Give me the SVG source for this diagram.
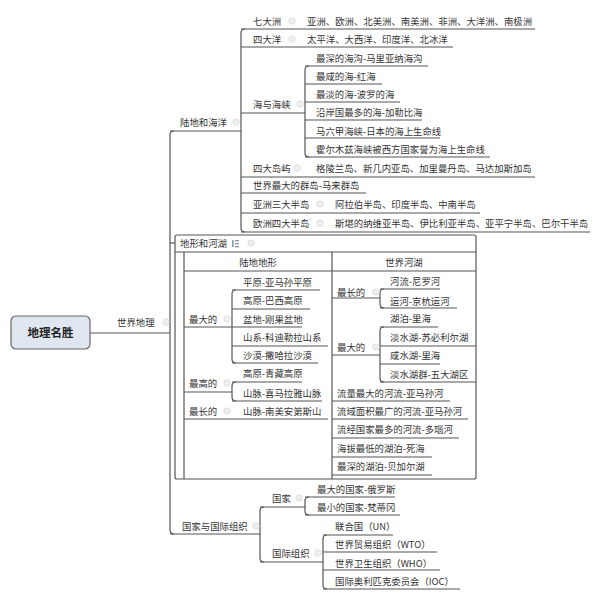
<svg xmlns="http://www.w3.org/2000/svg" width="600" height="610" viewBox="0 0 600 610">
<style>
text{font-family:"Noto Sans CJK SC","Liberation Sans",sans-serif;font-size:9.4px;fill:#333}
.c{text-anchor:middle}
.ln{fill:none;stroke:#555;stroke-width:1.2}
.ic{fill:#efefef;stroke:#dcdcdc;stroke-width:0.8}
.root{fill:#dfe6ef;stroke:#666;stroke-width:1.2}
.rt{font-size:11.5px;font-weight:bold;fill:#222}
.tb{fill:none;stroke:#555;stroke-width:1.2}
</style>
<rect width="600" height="610" fill="#fff"/>
<g id="n-table">
<rect class="tb" x="175" y="235" width="301" height="244" rx="2"/>
<path class="ln" d="M175 252 H476 M184 252 V479 M184 271 H476 M332 252 V479"/>
<text x="180" y="246.5">地形和河湖</text>
<g fill="#8a9ab0"><rect x="232" y="240" width="1.6" height="7"/><rect x="235" y="240" width="4" height="1.4"/><rect x="235" y="243" width="4" height="1.4"/><rect x="235" y="246" width="4" height="1.4"/></g>
<circle class="ic" cx="251" cy="243" r="3.2"/>
<text class="c" x="258" y="265.5">陆地地形</text>
<text class="c" x="404" y="265.5">世界河湖</text>
</g>
<g id="connectors">
<path class="ln" d="M90 333 H170"/>
<path class="ln" d="M174 131 Q170 131 170 135 V530 Q170 534 174 534"/>
<path class="ln" d="M170 131 H241"/>
<path class="ln" d="M170 243 H175"/>
<path class="ln" d="M170 534 H260"/>
<path class="ln" d="M245 29 Q241 29 241 33 V228 Q241 232 245 232"/>
<path class="ln" d="M241 29 H535"/>
<path class="ln" d="M241 47 H453"/>
<path class="ln" d="M241 113 H305"/>
<path class="ln" d="M241 177 H535"/>
<path class="ln" d="M241 193 H366"/>
<path class="ln" d="M241 213 H480"/>
<path class="ln" d="M241 232 H590"/>
<path class="ln" d="M309 66 Q305 66 305 70 V153 Q305 157 309 157"/>
<path class="ln" d="M305 66 H428"/>
<path class="ln" d="M305 84 H382"/>
<path class="ln" d="M305 102 H400"/>
<path class="ln" d="M305 120 H422"/>
<path class="ln" d="M305 138 H440"/>
<path class="ln" d="M305 157 H490"/>
<path class="ln" d="M184 327 H232"/>
<path class="ln" d="M236 290 Q232 290 232 294 V359 Q232 363 236 363"/>
<path class="ln" d="M232 290 H320"/>
<path class="ln" d="M232 309 H310"/>
<path class="ln" d="M232 327 H302"/>
<path class="ln" d="M232 346 H328"/>
<path class="ln" d="M232 363 H318"/>
<path class="ln" d="M184 392 H232"/>
<path class="ln" d="M236 382 Q232 382 232 386 V397 Q232 401 236 401"/>
<path class="ln" d="M232 382 H302"/>
<path class="ln" d="M232 401 H322"/>
<path class="ln" d="M184 419 H328"/>
<path class="ln" d="M332 298 H380"/>
<path class="ln" d="M384 289 Q380 289 380 293 V304 Q380 308 384 308"/>
<path class="ln" d="M380 289 H440"/>
<path class="ln" d="M380 308 H457"/>
<path class="ln" d="M332 355 H380"/>
<path class="ln" d="M384 327 Q380 327 380 331 V378 Q380 382 384 382"/>
<path class="ln" d="M380 327 H438"/>
<path class="ln" d="M380 346 H476"/>
<path class="ln" d="M380 364 H440"/>
<path class="ln" d="M380 382 H476"/>
<path class="ln" d="M332 401 H450"/>
<path class="ln" d="M332 419 H468"/>
<path class="ln" d="M332 438 H459"/>
<path class="ln" d="M332 457 H432"/>
<path class="ln" d="M332 475 H432"/>
<path class="ln" d="M264 507 Q260 507 260 511 V558 Q260 562 264 562"/>
<path class="ln" d="M260 507 H305"/>
<path class="ln" d="M309 497 Q305 497 305 501 V511 Q305 515 309 515"/>
<path class="ln" d="M305 497 H395"/>
<path class="ln" d="M305 515 H400"/>
<path class="ln" d="M260 562 H323"/>
<path class="ln" d="M327 535 Q323 535 323 539 V585 Q323 589 327 589"/>
<path class="ln" d="M323 535 H393"/>
<path class="ln" d="M323 552 H437"/>
<path class="ln" d="M323 570 H440"/>
<path class="ln" d="M323 589 H460"/>
</g>
<g id="root">
<rect class="root" x="11" y="316" width="79" height="33" rx="5"/>
<text class="rt c" x="50.5" y="337">地理名胜</text>
</g>
<g id="n-world"><text x="117" y="325.5">世界地理</text><circle class="ic" cx="166" cy="322" r="3.2"/></g>
<g id="n-landsea"><text x="180" y="125.5">陆地和海洋</text><circle class="ic" cx="236" cy="122" r="3.2"/></g>
<g id="n-7"><text x="253" y="24.5">七大洲</text><circle class="ic" cx="292" cy="21" r="3.2"/><text x="307" y="24.5">亚洲、欧洲、北美洲、南美洲、非洲、大洋洲、南极洲</text></g>
<g id="n-4o"><text x="253" y="42.5">四大洋</text><circle class="ic" cx="292" cy="39" r="3.2"/><text x="307" y="42.5">太平洋、大西洋、印度洋、北冰洋</text></g>
<g id="n-seas"><text x="253" y="107.5">海与海峡</text><circle class="ic" cx="300" cy="104" r="3.2"/></g>
<g id="n-s1"><text x="316" y="61.5">最深的海沟-马里亚纳海沟</text></g>
<g id="n-s2"><text x="316" y="79.5">最咸的海-红海</text></g>
<g id="n-s3"><text x="316" y="98">最淡的海-波罗的海</text></g>
<g id="n-s4"><text x="316" y="116">沿岸国最多的海-加勒比海</text></g>
<g id="n-s5"><text x="316" y="134.5">马六甲海峡-日本的海上生命线</text></g>
<g id="n-s6"><text x="316" y="153">霍尔木兹海峡被西方国家誉为海上生命线</text></g>
<g id="n-4i"><text x="253" y="172">四大岛屿</text><circle class="ic" cx="297" cy="168" r="3.2"/><text x="316" y="172">格陵兰岛、新几内亚岛、加里曼丹岛、马达加斯加岛</text></g>
<g id="n-arch"><text x="253" y="189">世界最大的群岛-马来群岛</text></g>
<g id="n-asia"><text x="253" y="208">亚洲三大半岛</text><circle class="ic" cx="320" cy="204" r="3.2"/><text x="335" y="208">阿拉伯半岛、印度半岛、中南半岛</text></g>
<g id="n-eu"><text x="253" y="227">欧洲四大半岛</text><circle class="ic" cx="320" cy="223" r="3.2"/><text x="335" y="227">斯堪的纳维亚半岛、伊比利亚半岛、亚平宁半岛、巴尔干半岛</text></g>
<g id="n-lmax"><text x="189" y="322.5">最大的</text><circle class="ic" cx="227" cy="319" r="3.2"/></g>
<g id="n-l1"><text x="243" y="285.5">平原-亚马孙平原</text></g>
<g id="n-l2"><text x="243" y="303.5">高原-巴西高原</text></g>
<g id="n-l3"><text x="243" y="322.5">盆地-刚果盆地</text></g>
<g id="n-l4"><text x="243" y="340.5">山系-科迪勒拉山系</text></g>
<g id="n-l5"><text x="243" y="358.5">沙漠-撒哈拉沙漠</text></g>
<g id="n-lhigh"><text x="189" y="386.5">最高的</text><circle class="ic" cx="227" cy="383" r="3.2"/></g>
<g id="n-l6"><text x="243" y="376.5">高原-青藏高原</text></g>
<g id="n-l7"><text x="243" y="396.5">山脉-喜马拉雅山脉</text></g>
<g id="n-llong"><text x="189" y="414.5">最长的</text><circle class="ic" cx="227" cy="411" r="3.2"/><text x="243" y="414.5">山脉-南美安第斯山</text></g>
<g id="n-rlong"><text x="337" y="295.5">最长的</text><circle class="ic" cx="376" cy="292" r="3.2"/></g>
<g id="n-r1"><text x="390" y="284.5">河流-尼罗河</text></g>
<g id="n-r2"><text x="390" y="304.5">运河-京杭运河</text></g>
<g id="n-rmax"><text x="337" y="350.5">最大的</text><circle class="ic" cx="376" cy="347" r="3.2"/></g>
<g id="n-r3"><text x="390" y="321.5">湖泊-里海</text></g>
<g id="n-r4"><text x="390" y="340.5">淡水湖-苏必利尔湖</text></g>
<g id="n-r5"><text x="390" y="358.5">咸水湖-里海</text></g>
<g id="n-r6"><text x="390" y="377.5">淡水湖群-五大湖区</text></g>
<g id="n-r7"><text x="337" y="396.5">流量最大的河流-亚马孙河</text></g>
<g id="n-r8"><text x="337" y="414.5">流域面积最广的河流-亚马孙河</text></g>
<g id="n-r9"><text x="337" y="432.5">流经国家最多的河流-多瑙河</text></g>
<g id="n-r10"><text x="337" y="451.5">海拔最低的湖泊-死海</text></g>
<g id="n-r11"><text x="337" y="470">最深的湖泊-贝加尔湖</text></g>
<g id="n-co"><text x="182" y="529.5">国家与国际组织</text><circle class="ic" cx="256" cy="526" r="3.2"/></g>
<g id="n-country"><text x="272" y="501.5">国家</text><circle class="ic" cx="299" cy="498" r="3.2"/></g>
<g id="n-c1"><text x="317" y="492.5">最大的国家-俄罗斯</text></g>
<g id="n-c2"><text x="317" y="510.5">最小的国家-梵蒂冈</text></g>
<g id="n-org"><text x="272" y="556.5">国际组织</text><circle class="ic" cx="318" cy="553" r="3.2"/></g>
<g id="n-o1"><text x="335" y="529.5">联合国（UN）</text></g>
<g id="n-o2"><text x="335" y="547.5">世界贸易组织（WTO）</text></g>
<g id="n-o3"><text x="335" y="566.5">世界卫生组织（WHO）</text></g>
<g id="n-o4"><text x="335" y="584.5">国际奥利匹克委员会（IOC）</text></g>
</svg>
